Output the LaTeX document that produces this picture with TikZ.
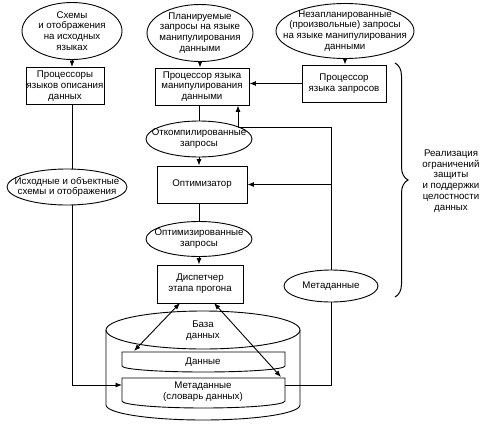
\documentclass[tikz,border=0pt]{standalone}
\usepackage{fontspec}
\setmainfont{Liberation Sans}
\usetikzlibrary{shapes.geometric,arrows.meta,decorations.pathreplacing}
\begin{document}
\begin{tikzpicture}[x=1pt,y=-1pt,
  every node/.style={font=\fontsize{9.7}{10.8}\selectfont, align=center, inner sep=0pt},
  ell/.style={draw, ellipse, line width=0.9pt},
  blk/.style={draw, rectangle, line width=0.9pt},
  con/.style={line width=0.9pt},
  arr/.style={con, -{Latex[length=6.5pt,width=5pt]}},
  darr/.style={con, {Latex[length=6.5pt,width=5pt]}-{Latex[length=6.5pt,width=5pt]}},
  brc/.style={line width=1pt, decorate, decoration={brace, amplitude=13pt}}
]
\useasboundingbox (0,0) rectangle (492,423);

% top row
\node[ell, minimum width=100pt, minimum height=57pt, label={center:Схемы\\и отображения\\на исходных\\языках}] (e1) at (72,31) {};
\node[ell, minimum width=106pt, minimum height=57pt, label={center:Планируемые\\запросы на языке\\манипулирования\\данными}] (e2) at (200,33) {};
\node[ell, minimum width=138pt, minimum height=55pt, label={center:Незапланированные\\(произвольные) запросы\\на языке манипулирования\\данными}] (e3) at (345,31) {};

% second row
\node[blk, minimum width=78pt, minimum height=37pt] (b1) at (65,86) {Процессоры\\языков описания\\данных};
\node[blk, minimum width=94pt, minimum height=37pt] (dml) at (202,86.5) {Процессор языка\\манипулирования\\данными};
\node[blk, minimum width=84pt, minimum height=37pt] (qp) at (344,83.5) {Процессор\\языка запросов};

% middle column
\node[ell, minimum width=106pt, minimum height=36pt, label={center:Откомпилированные\\запросы}] (e4) at (199,139) {};
\node[blk, minimum width=90pt, minimum height=37pt] (opt) at (202,184.5) {Оптимизатор};
\node[ell, minimum width=120pt, minimum height=36pt, label={center:Исходные и объектные\\схемы и отображения}] (e5) at (67,187) {};
\node[ell, minimum width=106pt, minimum height=35pt, label={center:Оптимизированные\\запросы}] (e6) at (199,239) {};
\node[blk, minimum width=86pt, minimum height=38pt] (disp) at (200,284) {Диспетчер\\этапа прогона};
\node[ell, minimum width=94pt, minimum height=32pt, label={center:Метаданные}] (e7) at (331,286) {};

% brace and its label
\draw[brc] (395,63) -- (395,297);
\node (lbl) at (451,181) {Реализация\\ограничений\\защиты\\и поддержки\\целостности\\данных};

% cylinder (database)
\draw[con] (106,330) -- (106,405) arc[start angle=180, end angle=360, x radius=97pt, y radius=15pt] -- (300,330);
\draw[con] (203,330) ellipse [x radius=97pt, y radius=19pt];
\node (db) at (203,331) {База\\данных};
\draw[con] (122,352) -- (285,352) -- (285,366) arc[start angle=0, end angle=-180, x radius=81.5pt, y radius=6pt] -- cycle;
\node (dat) at (203,362) {Данные};
\draw[con] (122,378) -- (285,378) -- (285,401) arc[start angle=0, end angle=-180, x radius=81.5pt, y radius=7pt] -- cycle;
\node (meta) at (203,392) {Метаданные\\(словарь данных)};
\coordinate (b2w) at (122,385);
\coordinate (b2e) at (285,385);
\coordinate (b1n) at (134,351);
\coordinate (b2n) at (281,377);

% connectors
\draw[arr] (e1.south) -- (e1.south |- b1.north);
\draw[arr] (e2.south) -- (e2.south |- dml.north);
\draw[arr] (e3.south) -- (e3.south |- qp.north);
\draw[arr] (qp.west) -- (qp.west -| dml.east);
\draw[con] (dml.south -| e4.north) -- (e4.north);
\draw[arr] (e4.south) -- (e4.south |- opt.north);
\draw[con] (opt.south -| e6.north) -- (e6.north);
\draw[arr] (e6.south) -- (e6.south |- disp.north);
\draw[con] (e1.south |- b1.south) -- (e1.south |- e5.north);
\draw[arr] (e1.south |- e5.south) |- (b2w);
\coordinate (fb) at (238,127);
\draw[arr] (e7.north) |- (fb) -- (fb |- dml.south);
\draw[arr] (e7.north |- opt.east) -- (opt.east);
\draw[con] (e7.south) |- (b2e);
\coordinate (d1) at (180,303);
\coordinate (d2) at (214,303);
\draw[darr] (d1) -- (b1n);
\draw[darr] (d2) -- (b2n);
\end{tikzpicture}
\end{document}
